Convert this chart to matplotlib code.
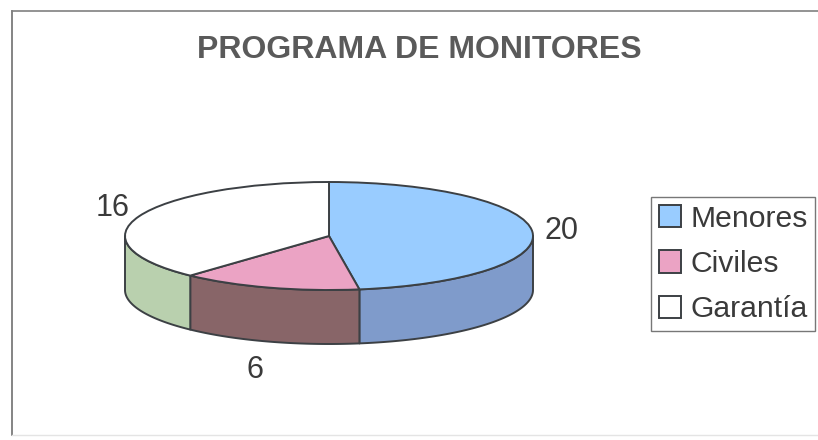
import numpy as np
import matplotlib
matplotlib.use("Agg")
import matplotlib.pyplot as plt
from matplotlib.lines import Line2D

categories = ["Menores", "Civiles", "Garantía"]
values = [20, 6, 16]
title = "PROGRAMA DE MONITORES"

top_colors = ["#99CCFF", "#EBA3C4", "#FFFFFF"]
side_colors = ["#7F9BCB", "#886568", "#B9D0AE"]
edge = "#3C4044"

W, H = 818, 440
plt.rcParams["font.family"] = ["Liberation Sans", "DejaVu Sans"]

fig = plt.figure(figsize=(W / 100, H / 100), dpi=100, facecolor="white")

# outer chart frame
fig.add_artist(Line2D([12 / W, 12 / W], [1 - 11 / H, 1 - 435 / H], color="#707070", lw=1.2))
fig.add_artist(Line2D([12 / W, 1], [1 - 11 / H, 1 - 11 / H], color="#808080", lw=1.2))
fig.add_artist(Line2D([12 / W, 1], [1 - 435 / H, 1 - 435 / H], color="#e4e4e4", lw=1))

# axes placed so that radius 1 gives a 204 x 54 px ellipse centred on (329, 236)
rx, ry = 204, 54
cx, cy = 329, 236
xlim = (-1.25, 1.25)
ylim = (-2.25, 1.25)
left = cx + xlim[0] * rx
width = (xlim[1] - xlim[0]) * rx
bottom = H - (cy - ylim[0] * ry)
height = (ylim[1] - ylim[0]) * ry
ax = fig.add_axes([left / W, bottom / H, width / W, height / H])

wedges, _ = ax.pie(values, colors=top_colors, startangle=90, counterclock=False,
                   wedgeprops={"edgecolor": edge, "linewidth": 1.4, "zorder": 3})
ax.set_aspect("auto")
ax.set_xlim(xlim)
ax.set_ylim(ylim)

# side wall, from the same values
depth = 1.0
start = 90.0
fracs = np.array(values) / sum(values)
for frac, col in zip(fracs, side_colors):
    end = start - frac * 360
    a0, a1 = min(start, 0), max(end, -180)
    if a0 > a1:
        t = np.radians(np.linspace(a0, a1, 80))
        x = np.cos(t)
        y = np.sin(t)
        ax.fill(np.r_[x, x[::-1]], np.r_[y, y[::-1] - depth], facecolor=col,
                edgecolor=edge, linewidth=1.4, zorder=2, joinstyle="round")
    start = end

# value labels
ax.text(1.14, 0.09, str(values[0]), ha="center", va="center", fontsize=22, color="#3A3A3A")
ax.text(-0.365, -2.49, str(values[1]), ha="center", va="center", fontsize=22, color="#3A3A3A", clip_on=False)
ax.text(-1.06, 0.52, str(values[2]), ha="center", va="center", fontsize=22, color="#3A3A3A")

fig.text(419 / W, 1 - 50 / H, title, ha="center", va="center", fontsize=23,
         fontweight="bold", color="#5A5A5A")

leg = fig.legend(wedges, categories, loc="center left", bbox_to_anchor=(651 / W, 1 - 264 / H),
                 fontsize=21.7, frameon=True, fancybox=False, edgecolor="#777777",
                 framealpha=1, handlelength=0.75, handleheight=0.75, handletextpad=0.3,
                 labelspacing=0.58, borderpad=0.25, borderaxespad=0, labelcolor="#3A3A3A")
leg.get_frame().set_linewidth(1)

fig.savefig("out.png", dpi=100)
